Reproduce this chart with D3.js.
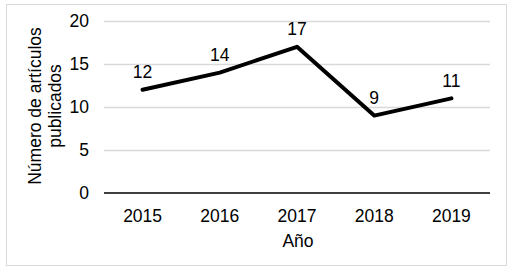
<!DOCTYPE html>
<html>
<head>
<meta charset="utf-8">
<script src="https://cdn.jsdelivr.net/npm/d3@7"></script>
<style>
  body { margin: 0; background: #fff; }
  text { font-family: "Liberation Sans", Arial, sans-serif; fill: #000; }
</style>
</head>
<body>
<script>
const width = 512
const height = 272

const years = ['2015', '2016', '2017', '2018', '2019']
const articles = [12, 14, 17, 9, 11]
const yTicks = [0, 5, 10, 15, 20]

const fontSize = 17.5

const colors = {
    frame: '#d9d9d9',
    grid: '#d9d9d9',
    axis: '#404040',
    line: '#000'
}

const svg = d3.select('body')
    .append('svg')
    .attr('width', width)
    .attr('height', height)

svg.append('rect')
    .attr('x', 6.5)
    .attr('y', 4.5)
    .attr('width', 500)
    .attr('height', 261)
    .attr('fill', '#fff')
    .attr('stroke', colors.frame)

const x = d3.scaleBand()
    .domain(years)
    .range([104, 490])

const y = d3.scaleLinear()
    .domain([0, 20])
    .range([193, 21])

// gridlines
svg.append('g')
    .selectAll('line')
    .data(yTicks.filter(d => d > 0))
    .enter().append('line')
    .attr('x1', 104)
    .attr('x2', 490)
    .attr('y1', d => Math.round(y(d)) + .5)
    .attr('y2', d => Math.round(y(d)) + .5)
    .attr('stroke', colors.grid)
    .attr('stroke-width', 1.5)

// y tick labels
svg.append('g')
    .selectAll('text')
    .data(yTicks)
    .enter().append('text')
    .attr('x', 89)
    .attr('y', d => y(d))
    .attr('dy', '0.35em')
    .attr('text-anchor', 'end')
    .attr('font-size', fontSize)
    .text(d => d)

// x axis line
svg.append('line')
    .attr('x1', 104)
    .attr('x2', 490)
    .attr('y1', y(0))
    .attr('y2', y(0))
    .attr('stroke', colors.axis)
    .attr('stroke-width', 2)

// x tick labels
svg.append('g')
    .selectAll('text')
    .data(years)
    .enter().append('text')
    .attr('x', d => x(d) + x.bandwidth() / 2)
    .attr('y', 222)
    .attr('text-anchor', 'middle')
    .attr('font-size', fontSize)
    .text(d => d)

// axis titles
svg.append('text')
    .attr('x', 298)
    .attr('y', 247)
    .attr('text-anchor', 'middle')
    .attr('font-size', fontSize)
    .text('Año')

const yTitle = svg.append('text')
    .attr('transform', 'translate(41,106) rotate(-90)')
    .attr('text-anchor', 'middle')
    .attr('font-size', fontSize)
yTitle.append('tspan').attr('x', 0).attr('y', 0).text('Número de artículos')
yTitle.append('tspan').attr('x', 0).attr('y', 20).text('publicados')

// series line
const line = d3.line()
    .x((d, i) => x(years[i]) + x.bandwidth() / 2)
    .y(d => y(d))

svg.append('path')
    .datum(articles)
    .attr('d', line)
    .attr('fill', 'none')
    .attr('stroke', colors.line)
    .attr('stroke-width', 4)
    .attr('stroke-linejoin', 'round')
    .attr('stroke-linecap', 'round')

// data labels
svg.append('g')
    .selectAll('text')
    .data(articles)
    .enter().append('text')
    .attr('x', (d, i) => x(years[i]) + x.bandwidth() / 2)
    .attr('y', d => y(d) - 18)
    .attr('dy', '0.35em')
    .attr('text-anchor', 'middle')
    .attr('font-size', fontSize)
    .text(d => d)
</script>
</body>
</html>
